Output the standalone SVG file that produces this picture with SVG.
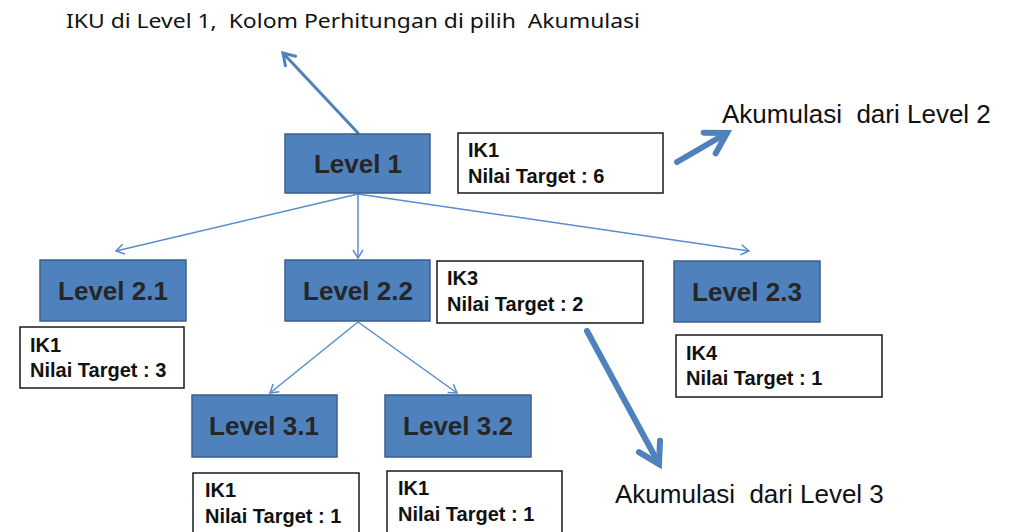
<svg xmlns="http://www.w3.org/2000/svg" width="1013" height="532" viewBox="0 0 1013 532">
<style>
.lvl{fill:#4f81bd;stroke:#3a5f8c;stroke-width:1.5}
.lt{font-family:"Liberation Sans",Arial,sans-serif;font-weight:bold;font-size:26px;fill:#262626;text-anchor:middle}
.box{fill:#fff;stroke:#1a1a1a;stroke-width:1.5}
.bt{font-family:"Liberation Sans",Arial,sans-serif;font-weight:bold;font-size:20px;fill:#111}
.thin{fill:none;stroke:#5a8ccb;stroke-width:1.5}
.thick{fill:none;stroke:#4f81bd;stroke-linecap:round}
.note{font-family:"Liberation Sans",Arial,sans-serif;font-size:26px;fill:#111;white-space:pre}
.top{font-family:"Noto Sans","Open Sans",sans-serif;font-size:19px;fill:#111;white-space:pre}
</style>
<defs>
<marker id="ah" markerUnits="userSpaceOnUse" markerWidth="20" markerHeight="20" viewBox="-10 -10 20 20" refX="0" refY="0" orient="auto">
<path d="M-8,-5 L0,0 L-8,5" fill="none" stroke="#5a8ccb" stroke-width="1.5"/>
</marker>
<marker id="ah2" markerUnits="userSpaceOnUse" markerWidth="30" markerHeight="30" viewBox="-15 -15 30 30" refX="0" refY="0" orient="auto">
<path d="M-11,-7 L0,0 L-11,7" fill="none" stroke="#4f81bd" stroke-width="3" stroke-linecap="round"/>
</marker>
<marker id="ah3" markerUnits="userSpaceOnUse" markerWidth="50" markerHeight="50" viewBox="-25 -25 50 50" refX="0" refY="0" orient="auto">
<path d="M-20,-12 L0,0 L-20,12" fill="none" stroke="#4f81bd" stroke-width="6" stroke-linecap="round" stroke-linejoin="miter"/>
</marker>
</defs>

<text class="top" x="66" y="28" textLength="574" lengthAdjust="spacingAndGlyphs">IKU di Level 1,  Kolom Perhitungan di pilih  Akumulasi</text>

<g id="connectors">
<line class="thin" x1="358" y1="194" x2="116" y2="251" marker-end="url(#ah)"/>
<line class="thin" x1="358" y1="194" x2="358" y2="258" marker-end="url(#ah)"/>
<line class="thin" x1="358" y1="194" x2="749" y2="251" marker-end="url(#ah)"/>
<line class="thin" x1="358" y1="322" x2="270" y2="393" marker-end="url(#ah)"/>
<line class="thin" x1="358" y1="322" x2="457" y2="393" marker-end="url(#ah)"/>
<line class="thick" stroke-width="3" x1="358" y1="133" x2="283" y2="53" marker-end="url(#ah2)"/>
<line class="thick" stroke-width="6" x1="677" y1="162" x2="727" y2="133" marker-end="url(#ah3)"/>
<line class="thick" stroke-width="6" x1="587" y1="331" x2="659" y2="464" marker-end="url(#ah3)"/>
</g>

<g id="level1"><rect class="lvl" x="285" y="134" width="145" height="59"/><text class="lt" x="358" y="173">Level 1</text></g>
<g id="level21"><rect class="lvl" x="40" y="260" width="146" height="61"/><text class="lt" x="113" y="300">Level 2.1</text></g>
<g id="level22"><rect class="lvl" x="285" y="260" width="145" height="61"/><text class="lt" x="358" y="300">Level 2.2</text></g>
<g id="level23"><rect class="lvl" x="674" y="261" width="146" height="61"/><text class="lt" x="747" y="301">Level 2.3</text></g>
<g id="level31"><rect class="lvl" x="192" y="395" width="145" height="62"/><text class="lt" x="264" y="435">Level 3.1</text></g>
<g id="level32"><rect class="lvl" x="385" y="395" width="146" height="62"/><text class="lt" x="458" y="435">Level 3.2</text></g>

<g id="ik-l1"><rect class="box" x="458" y="133" width="205" height="60"/><text class="bt" x="468" y="157">IK1</text><text class="bt" x="468" y="183">Nilai Target : 6</text></g>
<g id="ik-l21"><rect class="box" x="20" y="327" width="164" height="61"/><text class="bt" x="30" y="352">IK1</text><text class="bt" x="30" y="377">Nilai Target : 3</text></g>
<g id="ik-l22"><rect class="box" x="437" y="261" width="206" height="62"/><text class="bt" x="447" y="285">IK3</text><text class="bt" x="447" y="311">Nilai Target : 2</text></g>
<g id="ik-l23"><rect class="box" x="676" y="335" width="206" height="62"/><text class="bt" x="686" y="360">IK4</text><text class="bt" x="686" y="385">Nilai Target : 1</text></g>
<g id="ik-l31"><rect class="box" x="193" y="473" width="166" height="70"/><text class="bt" x="205" y="497">IK1</text><text class="bt" x="205" y="523">Nilai Target : 1</text></g>
<g id="ik-l32"><rect class="box" x="387" y="471" width="175" height="70"/><text class="bt" x="398" y="495">IK1</text><text class="bt" x="398" y="521">Nilai Target : 1</text></g>

<text class="note" x="722" y="123">Akumulasi  dari Level 2</text>
<text class="note" x="615" y="503">Akumulasi  dari Level 3</text>
</svg>
